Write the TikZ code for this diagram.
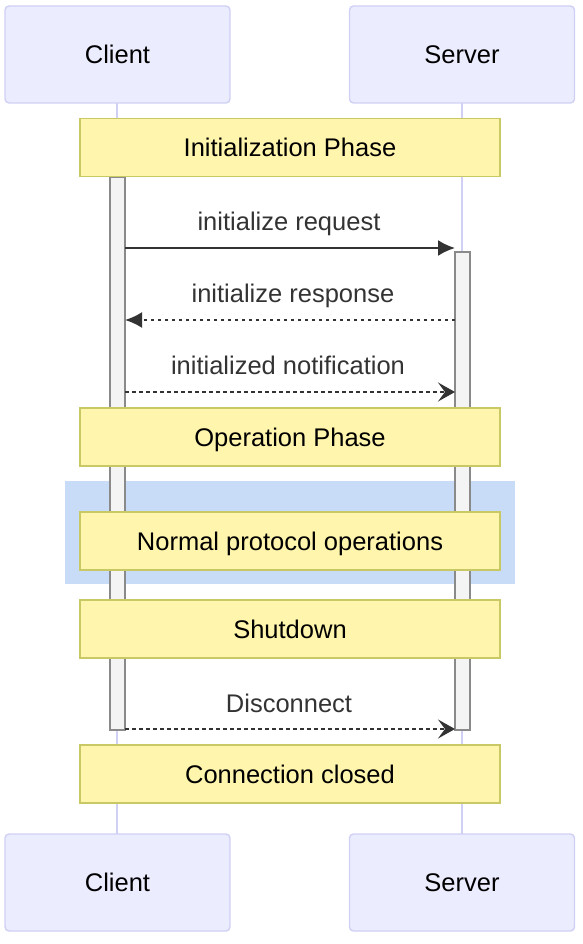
\documentclass[tikz,border=0pt]{standalone}
\usepackage{fontspec}
\setmainfont{Liberation Sans}
\usetikzlibrary{arrows.meta}
\definecolor{actfill}{HTML}{ECECFF}
\definecolor{actdraw}{HTML}{D0D0F5}
\definecolor{notefill}{HTML}{FFF5AD}
\definecolor{notedraw}{HTML}{C8C864}
\definecolor{boxfill}{HTML}{C8DBF7}
\definecolor{actvfill}{HTML}{F4F4F4}
\definecolor{actvdraw}{HTML}{8A8A8A}
\definecolor{msgcol}{HTML}{333333}
\tikzset{
  basefont/.style={font=\fontsize{25.5}{29}\selectfont, text height=18.3pt, text depth=0pt},
  actor/.style={draw=actdraw, fill=actfill, line width=1.4pt, rounded corners=4pt, minimum width=225pt, minimum height=97pt, inner sep=0pt, basefont},
  notebox/.style={draw=notedraw, fill=notefill, line width=1.2pt, minimum width=420pt, minimum height=58pt, inner sep=0pt, basefont},
  lifeline/.style={draw=actdraw, line width=1.4pt},
  activ/.style={draw=actvdraw, fill=actvfill, line width=1.2pt},
  msg/.style={draw=msgcol, line width=2pt},
  dmsg/.style={msg, dash pattern=on 3.5pt off 3.5pt},
  msglabel/.style={text=msgcol, basefont, inner sep=0pt},
  solidtip/.style={-{Latex[length=17pt,width=16pt]}},
  opentip/.style={-{Stealth[length=17pt,width=19pt,inset=7pt]}},
}
\begin{document}
\begin{tikzpicture}[x=1pt,y=-1pt]
\useasboundingbox (0,0) rectangle (582,944);
% lifelines
\coordinate (cl1) at (117,103);
\coordinate (cl2) at (117,834);
\coordinate (sl1) at (462,103);
\coordinate (sl2) at (462,834);
\draw[lifeline] (cl1) -- (cl2);
\draw[lifeline] (sl1) -- (sl2);
% actors
\node[actor] (ctop) at (117.5,54.5) {Client};
\node[actor] (stop) at (462,54.5) {Server};
\node[actor] (cbot) at (117.5,882.5) {Client};
\node[actor] (sbot) at (462,882.5) {Server};
% blue box
\node[fill=boxfill, minimum width=450pt, minimum height=103pt, inner sep=0pt] (loop) at (290,532.5) {};
% activations
\node[activ, minimum width=15pt, minimum height=553pt, inner sep=0pt] (ca) at (117.5,453.5) {};
\node[activ, minimum width=15pt, minimum height=478pt, inner sep=0pt] (sa) at (462.5,491) {};
% notes
\node[notebox] (n1) at (290,147.5) {Initialization Phase};
\node[notebox] (n2) at (290,437) {Operation Phase};
\node[notebox] (n3) at (290,541) {Normal protocol operations};
\node[notebox] (n4) at (290,629) {Shutdown};
\node[notebox] (n5) at (290,774) {Connection closed};
% messages
\coordinate (m1a) at (125,248); \coordinate (m1b) at (455,248);
\coordinate (m2a) at (455,320); \coordinate (m2b) at (125,320);
\coordinate (m3a) at (125,392); \coordinate (m3b) at (455,392);
\coordinate (m4a) at (125,729); \coordinate (m4b) at (455,729);
\draw[msg, solidtip] (m1a) -- (m1b);
\draw[dmsg, solidtip] (m2a) -- (m2b);
\draw[dmsg, opentip] (m3a) -- (m3b);
\draw[dmsg, opentip] (m4a) -- (m4b);
\node[msglabel] (l1) at (289,221) {initialize request};
\node[msglabel] (l2) at (293,293) {initialize response};
\node[msglabel] (l3) at (288,365) {initialized notification};
\node[msglabel] (l4) at (289,703) {Disconnect};
\end{tikzpicture}
\end{document}
